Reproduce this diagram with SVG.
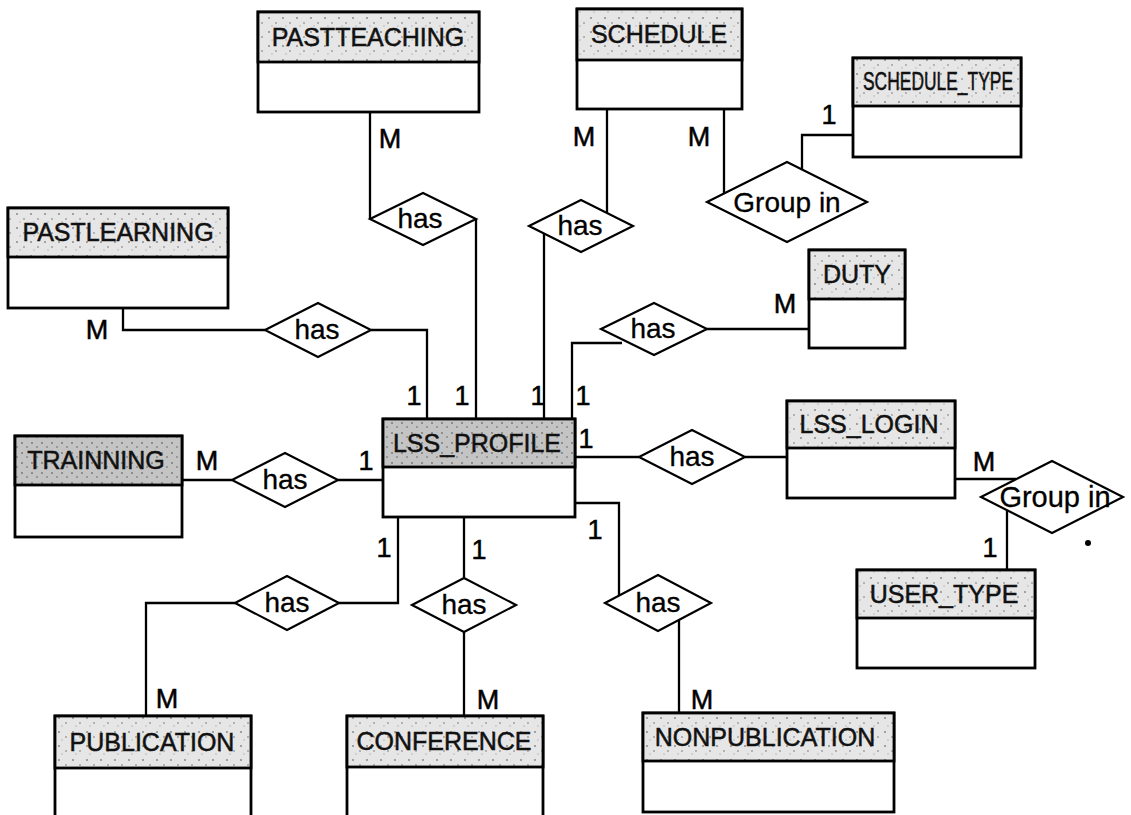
<svg xmlns="http://www.w3.org/2000/svg" width="1131" height="815" viewBox="0 0 1131 815">
  <defs>
    <pattern id="speck" width="14" height="14" patternUnits="userSpaceOnUse">
      <rect width="14" height="14" fill="#e6e6e6"/>
      <circle cx="3" cy="4" r="1" fill="#8a8a8a"/>
      <circle cx="10" cy="9" r="0.9" fill="#9a9a9a"/>
      <circle cx="6" cy="12" r="0.7" fill="#aaaaaa"/>
    </pattern>
    <pattern id="speckDark" width="10" height="10" patternUnits="userSpaceOnUse">
      <rect width="10" height="10" fill="#c4c4c4"/>
      <circle cx="2" cy="3" r="1" fill="#7a7a7a"/>
      <circle cx="7" cy="7" r="1" fill="#8a8a8a"/>
    </pattern>
  </defs>
  <style>
    .box { fill: #ffffff; stroke: #000000; stroke-width: 2.8; }
    .hdr { fill: url(#speck); stroke: #000000; stroke-width: 2.8; }
    .hdrd { fill: url(#speckDark); stroke: #000000; stroke-width: 2.8; }
    .ename { font-family: "Liberation Sans", Arial, sans-serif; font-size: 25px; fill: #111111; stroke: #111111; stroke-width: 0.5; text-anchor: middle; }
    .rel { fill: #ffffff; stroke: #000000; stroke-width: 2.2; }
    .rtxt { font-family: "Liberation Sans", Arial, sans-serif; font-size: 28px; fill: #000000; stroke: #000000; stroke-width: 0.3; text-anchor: middle; }
    .cardm { font-family: "Liberation Sans", Arial, sans-serif; font-size: 27px; fill: #000000; stroke: #000000; stroke-width: 0.5; text-anchor: middle; }
    .conn { fill: none; stroke: #000000; stroke-width: 2.3; }
  </style>
  <rect width="1131" height="815" fill="#ffffff"/>

  <g id="connectors">
    <polyline class="conn" points="370,112 370,219"/>
    <polyline class="conn" points="476,219 476,419"/>
    <polyline class="conn" points="607,109 607,213"/>
    <polyline class="conn" points="544,234 544,419"/>
    <polyline class="conn" points="724,109 724,194"/>
    <polyline class="conn" points="853,135 802,135 802,170"/>
    <polyline class="conn" points="123,308 123,330 265,330"/>
    <polyline class="conn" points="371,330 427,330 427,419"/>
    <polyline class="conn" points="572,419 572,343 622,343"/>
    <polyline class="conn" points="707,329 809,329"/>
    <polyline class="conn" points="575,457 639,457"/>
    <polyline class="conn" points="745,457 787,457"/>
    <polyline class="conn" points="955,479 1016,479"/>
    <polyline class="conn" points="1007,510 1007,570"/>
    <polyline class="conn" points="182,480 232,480"/>
    <polyline class="conn" points="338,480 383,480"/>
    <polyline class="conn" points="398,517 398,603 339,603"/>
    <polyline class="conn" points="235,603 146,603 146,716"/>
    <polyline class="conn" points="464,517 464,578"/>
    <polyline class="conn" points="464,632 464,716"/>
    <polyline class="conn" points="575,503 619,503 619,596"/>
    <polyline class="conn" points="679,620 679,713"/>
  </g>

  <g id="PASTTEACHING">
    <rect class="box" x="258" y="12" width="221" height="100"/>
    <rect class="hdr" x="258" y="12" width="221" height="50"/>
    <text class="ename" x="368" y="46">PASTTEACHING</text>
  </g>
  <g id="SCHEDULE">
    <rect class="box" x="577" y="9" width="165" height="100"/>
    <rect class="hdr" x="577" y="9" width="165" height="51"/>
    <text class="ename" x="659" y="43">SCHEDULE</text>
  </g>
  <g id="SCHEDULE_TYPE">
    <rect class="box" x="853" y="58" width="168" height="99"/>
    <rect class="hdr" x="853" y="58" width="168" height="48"/>
    <text class="ename" x="938" y="90" textLength="150" lengthAdjust="spacingAndGlyphs">SCHEDULE_TYPE</text>
  </g>
  <g id="PASTLEARNING">
    <rect class="box" x="8" y="208" width="220" height="100"/>
    <rect class="hdr" x="8" y="208" width="220" height="49"/>
    <text class="ename" x="118" y="241">PASTLEARNING</text>
  </g>
  <g id="DUTY">
    <rect class="box" x="809" y="250" width="96" height="98"/>
    <rect class="hdr" x="809" y="250" width="96" height="49"/>
    <text class="ename" x="857" y="283">DUTY</text>
  </g>
  <g id="LSS_PROFILE">
    <rect class="box" x="383" y="419" width="192" height="98"/>
    <rect class="hdrd" x="383" y="419" width="192" height="48"/>
    <text class="ename" x="477" y="452">LSS_PROFILE</text>
  </g>
  <g id="LSS_LOGIN">
    <rect class="box" x="787" y="401" width="168" height="97"/>
    <rect class="hdr" x="787" y="401" width="168" height="47"/>
    <text class="ename" x="869" y="433">LSS_LOGIN</text>
  </g>
  <g id="TRAINNING">
    <rect class="box" x="15" y="436" width="167" height="101"/>
    <rect class="hdrd" x="15" y="436" width="167" height="49"/>
    <text class="ename" x="96" y="469">TRAINNING</text>
  </g>
  <g id="USER_TYPE">
    <rect class="box" x="857" y="570" width="178" height="98"/>
    <rect class="hdr" x="857" y="570" width="178" height="48"/>
    <text class="ename" x="944" y="603">USER_TYPE</text>
  </g>
  <g id="PUBLICATION">
    <rect class="box" x="55" y="716" width="196" height="104"/>
    <rect class="hdr" x="55" y="716" width="196" height="52"/>
    <text class="ename" x="152" y="751">PUBLICATION</text>
  </g>
  <g id="CONFERENCE">
    <rect class="box" x="347" y="716" width="196" height="104"/>
    <rect class="hdr" x="347" y="716" width="196" height="51"/>
    <text class="ename" x="444" y="750">CONFERENCE</text>
  </g>
  <g id="NONPUBLICATION">
    <rect class="box" x="643" y="713" width="251" height="99"/>
    <rect class="hdr" x="643" y="713" width="251" height="48"/>
    <text class="ename" x="765" y="746">NONPUBLICATION</text>
  </g>

  <g id="rel_pastteaching">
    <polygon class="rel" points="370,219 423,193 476,219 423,245"/>
    <text class="rtxt" x="420" y="228">has</text>
  </g>
  <g id="rel_schedule">
    <polygon class="rel" points="529,226 581,200 633,226 581,252"/>
    <text class="rtxt" x="580" y="235">has</text>
  </g>
  <g id="rel_schedule_type">
    <polygon class="rel" points="707,202 787,162 867,202 787,242"/>
    <text class="rtxt" x="787" y="212">Group in</text>
  </g>
  <g id="rel_pastlearning">
    <polygon class="rel" points="265,330 318,303 371,330 318,357"/>
    <text class="rtxt" x="317" y="339">has</text>
  </g>
  <g id="rel_duty">
    <polygon class="rel" points="601,329 654,303 707,329 654,355"/>
    <text class="rtxt" x="653" y="338">has</text>
  </g>
  <g id="rel_login">
    <polygon class="rel" points="639,457 692,430 745,457 692,484"/>
    <text class="rtxt" x="692" y="466">has</text>
  </g>
  <g id="rel_user_type">
    <polygon class="rel" points="981,497 1052,461 1123,497 1052,533"/>
    <text class="rtxt" x="1055" y="507" style="font-size:29px">Group in</text>
  </g>
  <g id="rel_trainning">
    <polygon class="rel" points="232,480 285,453 338,480 285,507"/>
    <text class="rtxt" x="285" y="489">has</text>
  </g>
  <g id="rel_publication">
    <polygon class="rel" points="235,603 287,576 339,603 287,630"/>
    <text class="rtxt" x="287" y="612">has</text>
  </g>
  <g id="rel_conference">
    <polygon class="rel" points="412,605 464,578 516,605 464,632"/>
    <text class="rtxt" x="464" y="614">has</text>
  </g>
  <g id="rel_nonpublication">
    <polygon class="rel" points="605,603 658,575 711,603 658,631"/>
    <text class="rtxt" x="658" y="612">has</text>
  </g>

  <g id="cardinalities">
    <text class="cardm" x="390" y="148">M</text>
    <text class="cardm" x="584" y="146">M</text>
    <text class="cardm" x="699" y="146">M</text>
    <text class="cardm" x="829" y="124">1</text>
    <text class="cardm" x="97" y="339">M</text>
    <text class="cardm" x="414" y="405">1</text>
    <text class="cardm" x="462" y="405">1</text>
    <text class="cardm" x="538" y="405">1</text>
    <text class="cardm" x="583" y="405">1</text>
    <text class="cardm" x="586" y="448">1</text>
    <text class="cardm" x="785" y="313">M</text>
    <text class="cardm" x="207" y="470">M</text>
    <text class="cardm" x="366" y="470">1</text>
    <text class="cardm" x="384" y="557">1</text>
    <text class="cardm" x="167" y="708">M</text>
    <text class="cardm" x="479" y="559">1</text>
    <text class="cardm" x="488" y="709">M</text>
    <text class="cardm" x="595" y="539">1</text>
    <text class="cardm" x="702" y="709">M</text>
    <text class="cardm" x="984" y="471">M</text>
    <text class="cardm" x="990" y="557">1</text>
  </g>
  <circle cx="1088" cy="543" r="3" fill="#000000"/>
</svg>
